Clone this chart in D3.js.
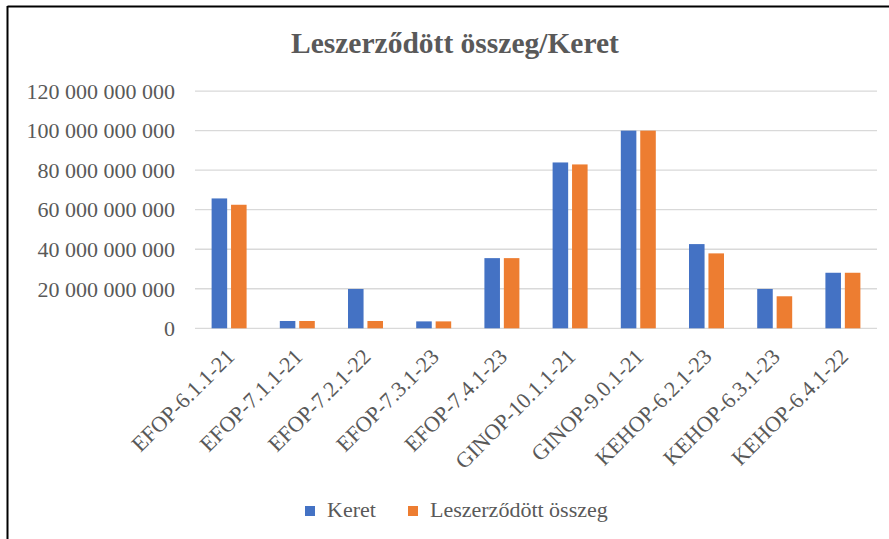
<!DOCTYPE html>
<html>
<head>
<meta charset="utf-8">
<script src="https://cdn.jsdelivr.net/npm/d3@7"></script>
<style>
  html, body { margin: 0; padding: 0; background: #fff; }
  svg { display: block; }
  text { font-family: "Liberation Serif", "Times New Roman", serif; fill: #595959; }
</style>
</head>
<body>
<svg id="chart" width="889" height="539"></svg>
<script>
const title = "Leszerződött összeg/Keret";
const categories = ["EFOP-6.1.1-21", "EFOP-7.1.1-21", "EFOP-7.2.1-22", "EFOP-7.3.1-23", "EFOP-7.4.1-23",
                    "GINOP-10.1.1-21", "GINOP-9.0.1-21", "KEHOP-6.2.1-23", "KEHOP-6.3.1-23", "KEHOP-6.4.1-22"];
const seriesNames = ["Keret", "Leszerződött összeg"];
const keret = [65.7e9, 3.7e9, 19.9e9, 3.5e9, 35.5e9, 83.9e9, 100e9, 42.6e9, 19.9e9, 28.1e9];
const leszerzodott = [62.5e9, 3.7e9, 3.7e9, 3.5e9, 35.5e9, 82.9e9, 100e9, 37.9e9, 16.2e9, 28.1e9];
const yTicks = [0, 20e9, 40e9, 60e9, 80e9, 100e9, 120e9];
const colors = ["#4472C4", "#ED7D31"];

const svg = d3.select("#chart");

// frame (top and left edges visible)
svg.append("line").attr("x1", 7.5).attr("x2", 889).attr("y1", 6.5).attr("y2", 6.5)
  .attr("stroke", "#000").attr("stroke-width", 2);
svg.append("line").attr("x1", 7.5).attr("x2", 7.5).attr("y1", 6).attr("y2", 539)
  .attr("stroke", "#000").attr("stroke-width", 2);

const pLeft = 195, pRight = 877, pTop = 91.1, pBottom = 328.3;

const x0 = d3.scaleBand().domain(categories).range([pLeft, pRight]).paddingInner(0.487).paddingOuter(0.2435);
const x1 = d3.scaleBand().domain(seriesNames).range([0, x0.bandwidth()]).paddingInner(0.2);
const y = d3.scaleLinear().domain([0, 120e9]).range([pBottom, pTop]);

// gridlines
svg.append("g").selectAll("line").data(yTicks).join("line")
  .attr("x1", pLeft).attr("x2", pRight)
  .attr("y1", d => y(d)).attr("y2", d => y(d))
  .attr("stroke", "#d9d9d9").attr("stroke-width", 1.3);

// y axis labels
const fmt = v => d3.format(",.0f")(v).replace(/,/g, " ");
const yAxis = d3.axisLeft(y).tickValues(yTicks).tickFormat(fmt).tickSize(0).tickPadding(0);
const gy = svg.append("g").attr("transform", `translate(175,0)`).call(yAxis);
gy.select(".domain").remove();
gy.selectAll("text").attr("font-size", 22).attr("fill", "#595959")
  .style("font-family", '"Liberation Serif", serif').attr("dy", "0.33em");

// bars
const data = categories.map((c, i) => ({ cat: c, vals: [keret[i], leszerzodott[i]] }));
const groups = svg.append("g").selectAll("g").data(data).join("g")
  .attr("transform", d => `translate(${x0(d.cat)},0)`);
groups.selectAll("rect").data(d => d.vals.map((v, j) => ({ name: seriesNames[j], v, j })))
  .join("rect")
  .attr("x", d => x1(d.name))
  .attr("width", x1.bandwidth())
  .attr("y", d => y(d.v))
  .attr("height", d => y(0) - y(d.v))
  .attr("fill", d => colors[d.j]);

// x axis labels
const xAxis = d3.axisBottom(x0).tickSize(0).tickPadding(0);
const gx = svg.append("g").attr("transform", `translate(0,${pBottom})`).call(xAxis);
gx.select(".domain").remove();
gx.selectAll("text")
  .attr("font-size", 22).attr("fill", "#595959")
  .style("font-family", '"Liberation Serif", serif')
  .attr("text-anchor", "end")
  .attr("y", 0).attr("dy", 0)
  .attr("transform", "translate(3,26) rotate(-45)")
  .attr("dominant-baseline", "middle");

// title
svg.append("text").attr("x", 455).attr("y", 53).attr("text-anchor", "middle")
  .attr("font-size", 29.5).attr("font-weight", "bold").attr("fill", "#595959").text(title);

// legend
const legX = [305, 408];
const leg = svg.append("g").selectAll("g").data(seriesNames).join("g")
  .attr("transform", (d, i) => `translate(${legX[i]},506)`);
leg.append("rect").attr("width", 10).attr("height", 10).attr("fill", (d, i) => colors[i]);
leg.append("text").attr("x", 22).attr("y", 11).attr("font-size", 22).attr("fill", "#595959").text(d => d);
</script>
</body>
</html>
